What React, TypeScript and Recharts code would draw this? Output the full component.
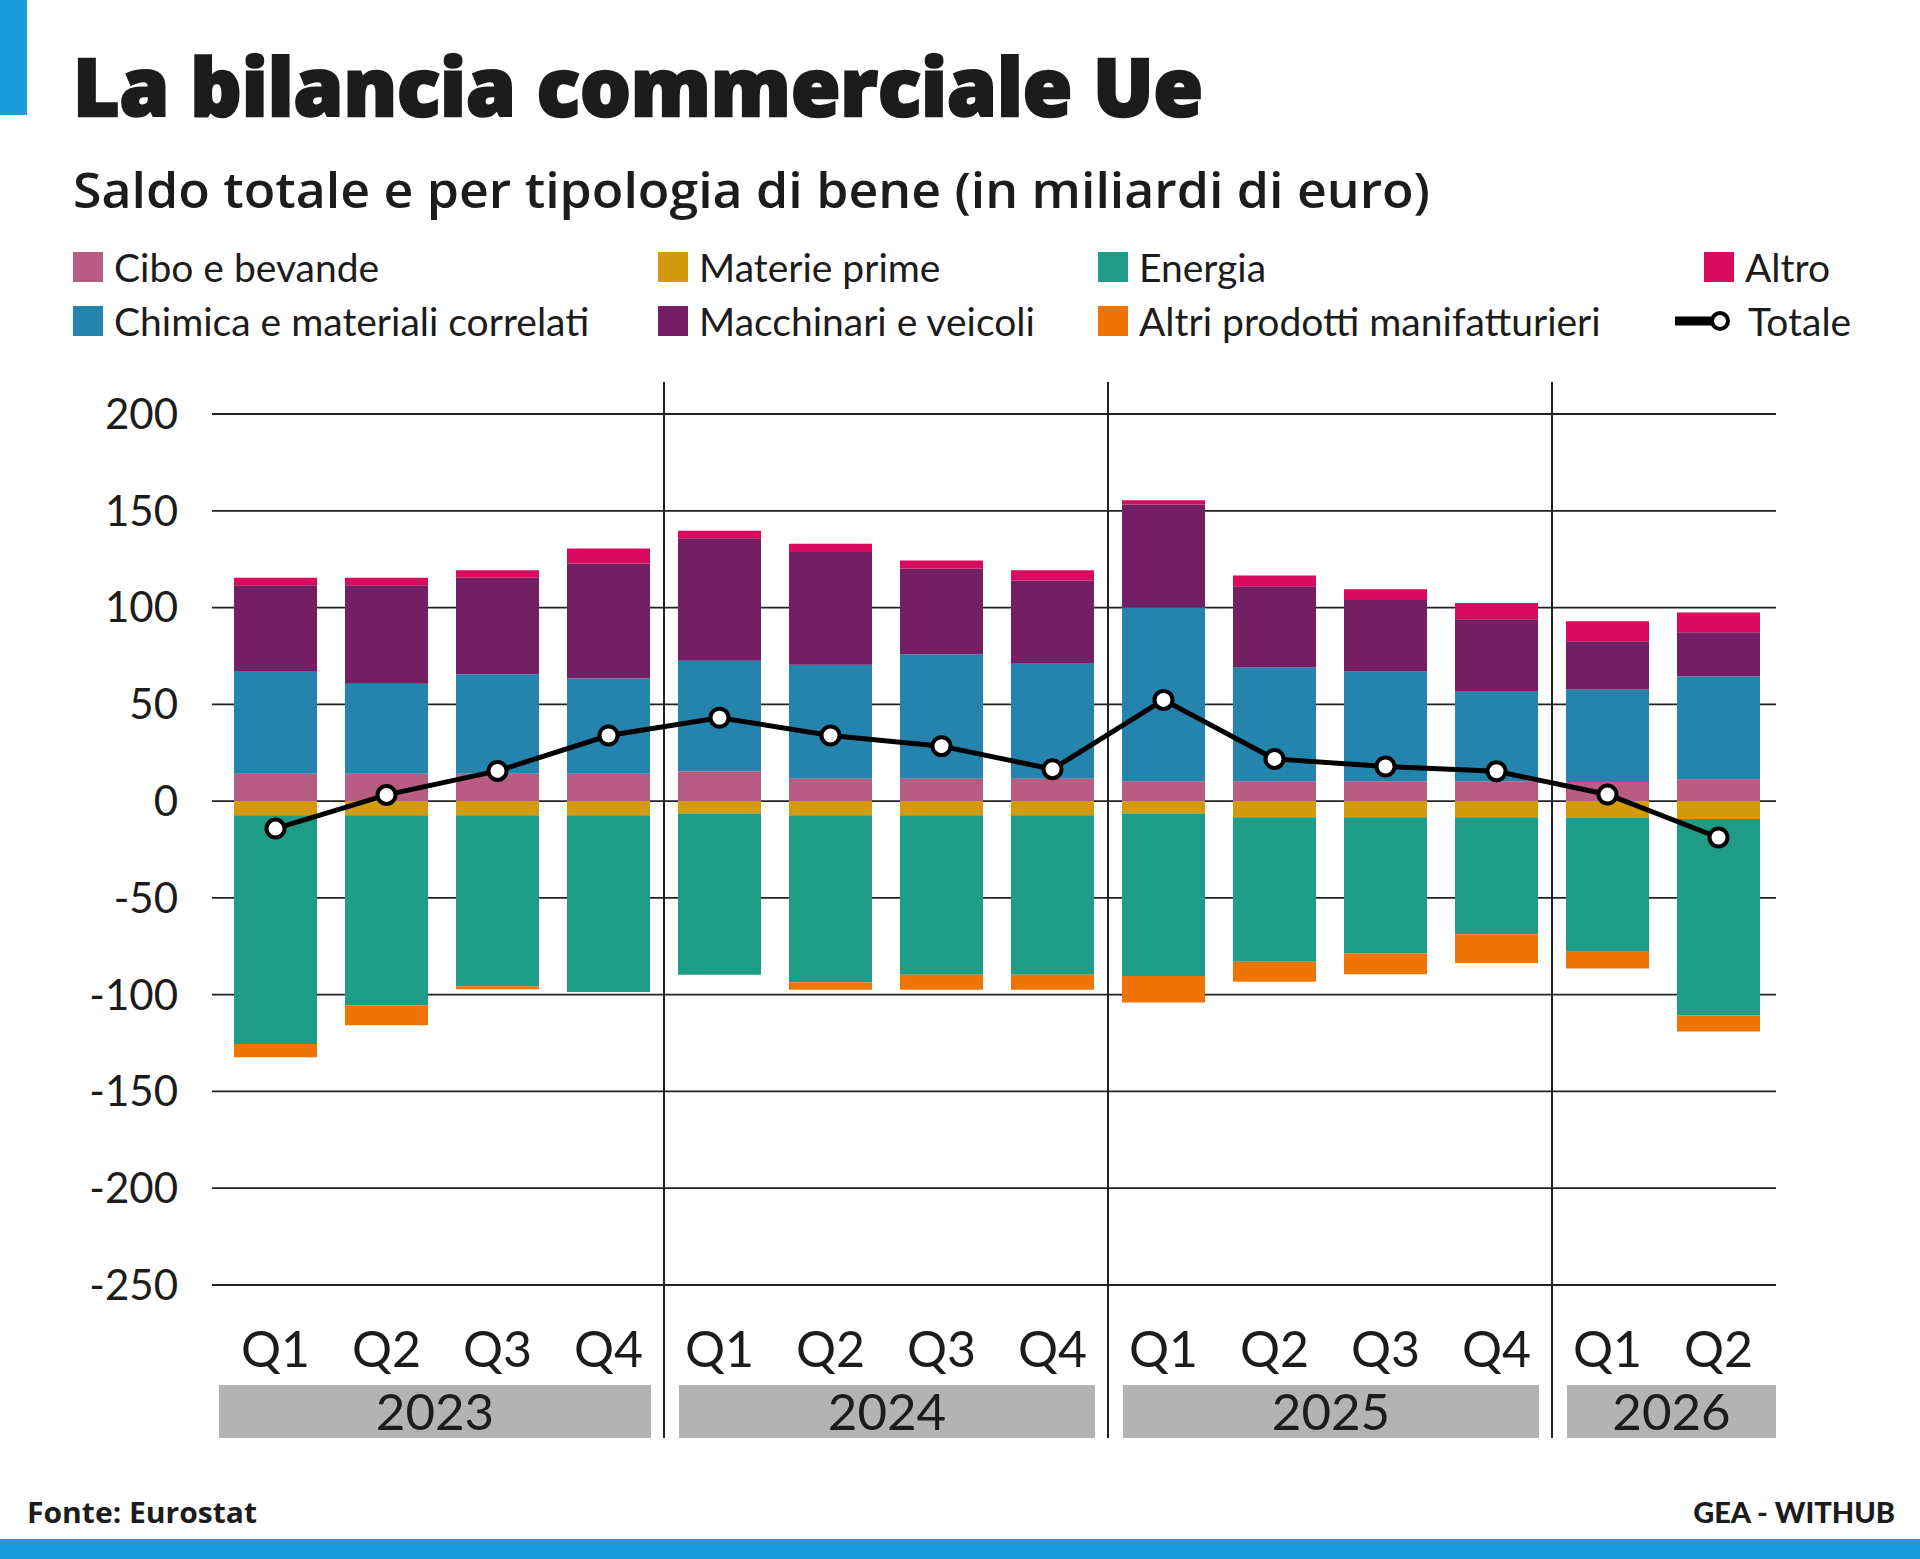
import React from "react";
import {
  ComposedChart,
  Bar,
  Line,
  XAxis,
  YAxis,
  CartesianGrid,
  ReferenceLine,
} from "recharts";

// quarters and years (x axis)
const quarters = ["Q1", "Q2", "Q3", "Q4", "Q1", "Q2", "Q3", "Q4", "Q1", "Q2", "Q3", "Q4", "Q1", "Q2"];
const years = ["2023", "2023", "2023", "2023", "2024", "2024", "2024", "2024", "2025", "2025", "2025", "2025", "2026", "2026"];

// saldo per tipologia di bene, miliardi di euro
const cibo = [14.2, 14.2, 14.2, 14.2, 15.4, 11.5, 11.5, 11.5, 10.3, 10.3, 10.3, 10.3, 9.9, 11];
const chimica = [53, 46.4, 51.4, 49.1, 57.1, 58.9, 64.4, 59.8, 89.9, 58.7, 56.7, 46.6, 47.7, 53.4];
const macchinari = [44.3, 50.9, 49.8, 59.4, 63.3, 58.3, 44.3, 42.7, 53, 42, 36.9, 37.1, 25, 22.8];
const altro = [3.9, 3.9, 3.9, 7.8, 3.9, 4.3, 4.1, 5.3, 2.3, 5.5, 5.5, 8.3, 10.3, 10.3];
const materie = [-7.3, -7.3, -7.3, -7.3, -6.4, -7.3, -7.3, -7.3, -6.4, -8.3, -8.3, -8.3, -8.5, -9.2];
const energia = [-118.2, -98.2, -88.3, -91.3, -83.3, -86.3, -82.4, -82.4, -84, -74.7, -70.4, -60.5, -69.3, -101.4];
const altriProdotti = [-6.8, -10.3, -1.6, 0, 0, -3.9, -7.8, -7.8, -13.7, -10.3, -10.7, -14.9, -8.7, -8.4];
const totale = [-14.2, 3.2, 15.6, 33.9, 43.1, 33.9, 28.4, 16.5, 52.3, 21.8, 17.9, 15.4, 3.4, -18.8];

const yTicks = [-250, -200, -150, -100, -50, 0, 50, 100, 150, 200];

const COLORS = {
  cibo: "#b85d81",
  chimica: "#2584ae",
  materie: "#d39b0b",
  macchinari: "#741f63",
  energia: "#1f9c86",
  altriProdotti: "#ee7406",
  altro: "#d90b5f",
};

const data = quarters.map((q, i) => ({
  id: `${years[i]} ${q}`,
  cibo: cibo[i],
  materie: materie[i],
  chimica: chimica[i],
  energia: energia[i],
  macchinari: macchinari[i],
  altriProdotti: altriProdotti[i],
  altro: altro[i],
  totale: totale[i],
}));

// first quarter of each year, for the separators
const yearStarts = data.filter((d, i) => i > 0 && years[i] !== years[i - 1]).map((d) => d.id);

const FONT = "Lato, 'Open Sans', sans-serif";
const HEAD_FONT = "'Open Sans', Lato, sans-serif";
const INK = "#1c1c1c";
const BLUE = "#1a9edb";

const PLOT_LEFT = 212;
const PLOT_RIGHT = 1776;
const PAD_L = 8;
const PAD_R = 2;
const BAND = (PLOT_RIGHT - PLOT_LEFT - PAD_L - PAD_R) / quarters.length;

function QuarterTick(props: any) {
  const { x, y, payload } = props;
  const i = payload.index ?? props.index;
  const first = i === 0 || years[i] !== years[i - 1];
  let box = null;
  if (first) {
    const n = years.filter((yy) => yy === years[i]).length;
    const isFirstYear = i === 0;
    const isLastYear = i + n >= years.length;
    const bandStart = x - BAND / 2;
    const bandEnd = bandStart + n * BAND;
    const left = isFirstYear ? PLOT_LEFT + 7 : bandStart + 15;
    const right = isLastYear ? PLOT_RIGHT : bandEnd - 13;
    box = (
      <g>
        <rect x={left} y={y + 100} width={right - left} height={53} fill="#b3b3b3" />
        <text x={(left + right) / 2} y={y + 145} textAnchor="middle" fontFamily={FONT} fontSize={51} fill={INK}>
          {years[i]}
        </text>
      </g>
    );
  }
  return (
    <g>
      {box}
      <text x={x} y={y + 82} textAnchor="middle" fontFamily={FONT} fontSize={50} fill={INK}>
        {quarters[i]}
      </text>
    </g>
  );
}

const legendCols = [73, 658, 1098, 1704];
const legendRows = [282, 336];
const legendItems = [
  { name: "Cibo e bevande", color: COLORS.cibo, col: 0, row: 0 },
  { name: "Materie prime", color: COLORS.materie, col: 1, row: 0 },
  { name: "Energia", color: COLORS.energia, col: 2, row: 0 },
  { name: "Altro", color: COLORS.altro, col: 3, row: 0 },
  { name: "Chimica e materiali correlati", color: COLORS.chimica, col: 0, row: 1 },
  { name: "Macchinari e veicoli", color: COLORS.macchinari, col: 1, row: 1 },
  { name: "Altri prodotti manifatturieri", color: COLORS.altriProdotti, col: 2, row: 1 },
];

function Header() {
  return (
    <svg width={1920} height={1559} style={{ position: "absolute", left: 0, top: 0 }}>
      <rect x={0} y={0} width={27} height={115} fill={BLUE} />
      <text
        x={73}
        y={116}
        fontFamily={HEAD_FONT}
        fontWeight={800}
        fontSize={80}
        fill={INK}
        stroke={INK}
        strokeWidth={2.5}
        textLength={1130}
        lengthAdjust="spacingAndGlyphs"
      >
        La bilancia commerciale Ue
      </text>
      <text
        x={73}
        y={208}
        fontFamily={HEAD_FONT}
        fontWeight={600}
        fontSize={48}
        fill={INK}
        textLength={1357}
        lengthAdjust="spacingAndGlyphs"
      >
        Saldo totale e per tipologia di bene (in miliardi di euro)
      </text>
      {legendItems.map((it) => (
        <g key={it.name}>
          <rect x={legendCols[it.col]} y={legendRows[it.row] - 30} width={30} height={30} fill={it.color} />
          <text x={legendCols[it.col] + 41} y={legendRows[it.row]} fontFamily={FONT} fontSize={39} fill={INK}>
            {it.name}
          </text>
        </g>
      ))}
      <line x1={1675} y1={321} x2={1712} y2={321} stroke="#000" strokeWidth={9} />
      <circle cx={1720} cy={321} r={8} fill="#fff" stroke="#000" strokeWidth={4} />
      <text x={1748} y={336} fontFamily={FONT} fontSize={39} fill={INK}>
        Totale
      </text>
      <text
        x={27}
        y={1523}
        fontFamily={HEAD_FONT}
        fontWeight={700}
        fontSize={29}
        fill={INK}
        textLength={230}
        lengthAdjust="spacingAndGlyphs"
      >
        Fonte: Eurostat
      </text>
      <text x={1895} y={1523} textAnchor="end" fontFamily={FONT} fontWeight={900} fontSize={29} fill={INK}>
        GEA - WITHUB
      </text>
      <rect x={0} y={1539} width={1920} height={20} fill={BLUE} />
    </svg>
  );
}

export default function App() {
  return (
    <div style={{ position: "absolute", left: 0, top: 0, width: 1920, height: 1559, background: "#fff" }}>
      <Header />
      <div style={{ position: "absolute", left: 0, top: 0 }}>
        <ComposedChart
          width={1920}
          height={1559}
          data={data}
          stackOffset="sign"
          margin={{ top: 414, right: 1920 - PLOT_RIGHT, bottom: 74, left: 0 }}
        >
          <CartesianGrid vertical={false} stroke="#222" strokeWidth={1.8} />
          <XAxis
            dataKey="id"
            interval={0}
            height={200}
            axisLine={false}
            tickLine={false}
            tickSize={0}
            tickMargin={0}
            padding={{ left: PAD_L, right: PAD_R }}
            tick={<QuarterTick />}
          />
          <YAxis
            width={PLOT_LEFT}
            domain={[-250, 200]}
            ticks={yTicks}
            interval={0}
            axisLine={false}
            tickLine={false}
            tickSize={0}
            tickMargin={34}
            tick={{ fontFamily: FONT, fontSize: 42, fill: INK }}
          />
          {yearStarts.map((id) => (
            <ReferenceLine
              key={id}
              segment={[
                { x: id, y: 216.5 },
                { x: id, y: -329 },
              ]}
              position="start"
              ifOverflow="visible"
              stroke="#222"
              strokeWidth={2}
            />
          ))}
          <Bar dataKey="cibo" stackId="s" barSize={83} fill={COLORS.cibo} isAnimationActive={false} />
          <Bar dataKey="materie" stackId="s" barSize={83} fill={COLORS.materie} isAnimationActive={false} />
          <Bar dataKey="chimica" stackId="s" barSize={83} fill={COLORS.chimica} isAnimationActive={false} />
          <Bar dataKey="energia" stackId="s" barSize={83} fill={COLORS.energia} isAnimationActive={false} />
          <Bar dataKey="macchinari" stackId="s" barSize={83} fill={COLORS.macchinari} isAnimationActive={false} />
          <Bar dataKey="altriProdotti" stackId="s" barSize={83} fill={COLORS.altriProdotti} isAnimationActive={false} />
          <Bar dataKey="altro" stackId="s" barSize={83} fill={COLORS.altro} isAnimationActive={false} />
          <Line
            dataKey="totale"
            type="linear"
            stroke="#000"
            strokeWidth={5}
            dot={{ r: 9, fill: "#fff", stroke: "#000", strokeWidth: 4 }}
            isAnimationActive={false}
          />
        </ComposedChart>
      </div>
    </div>
  );
}
